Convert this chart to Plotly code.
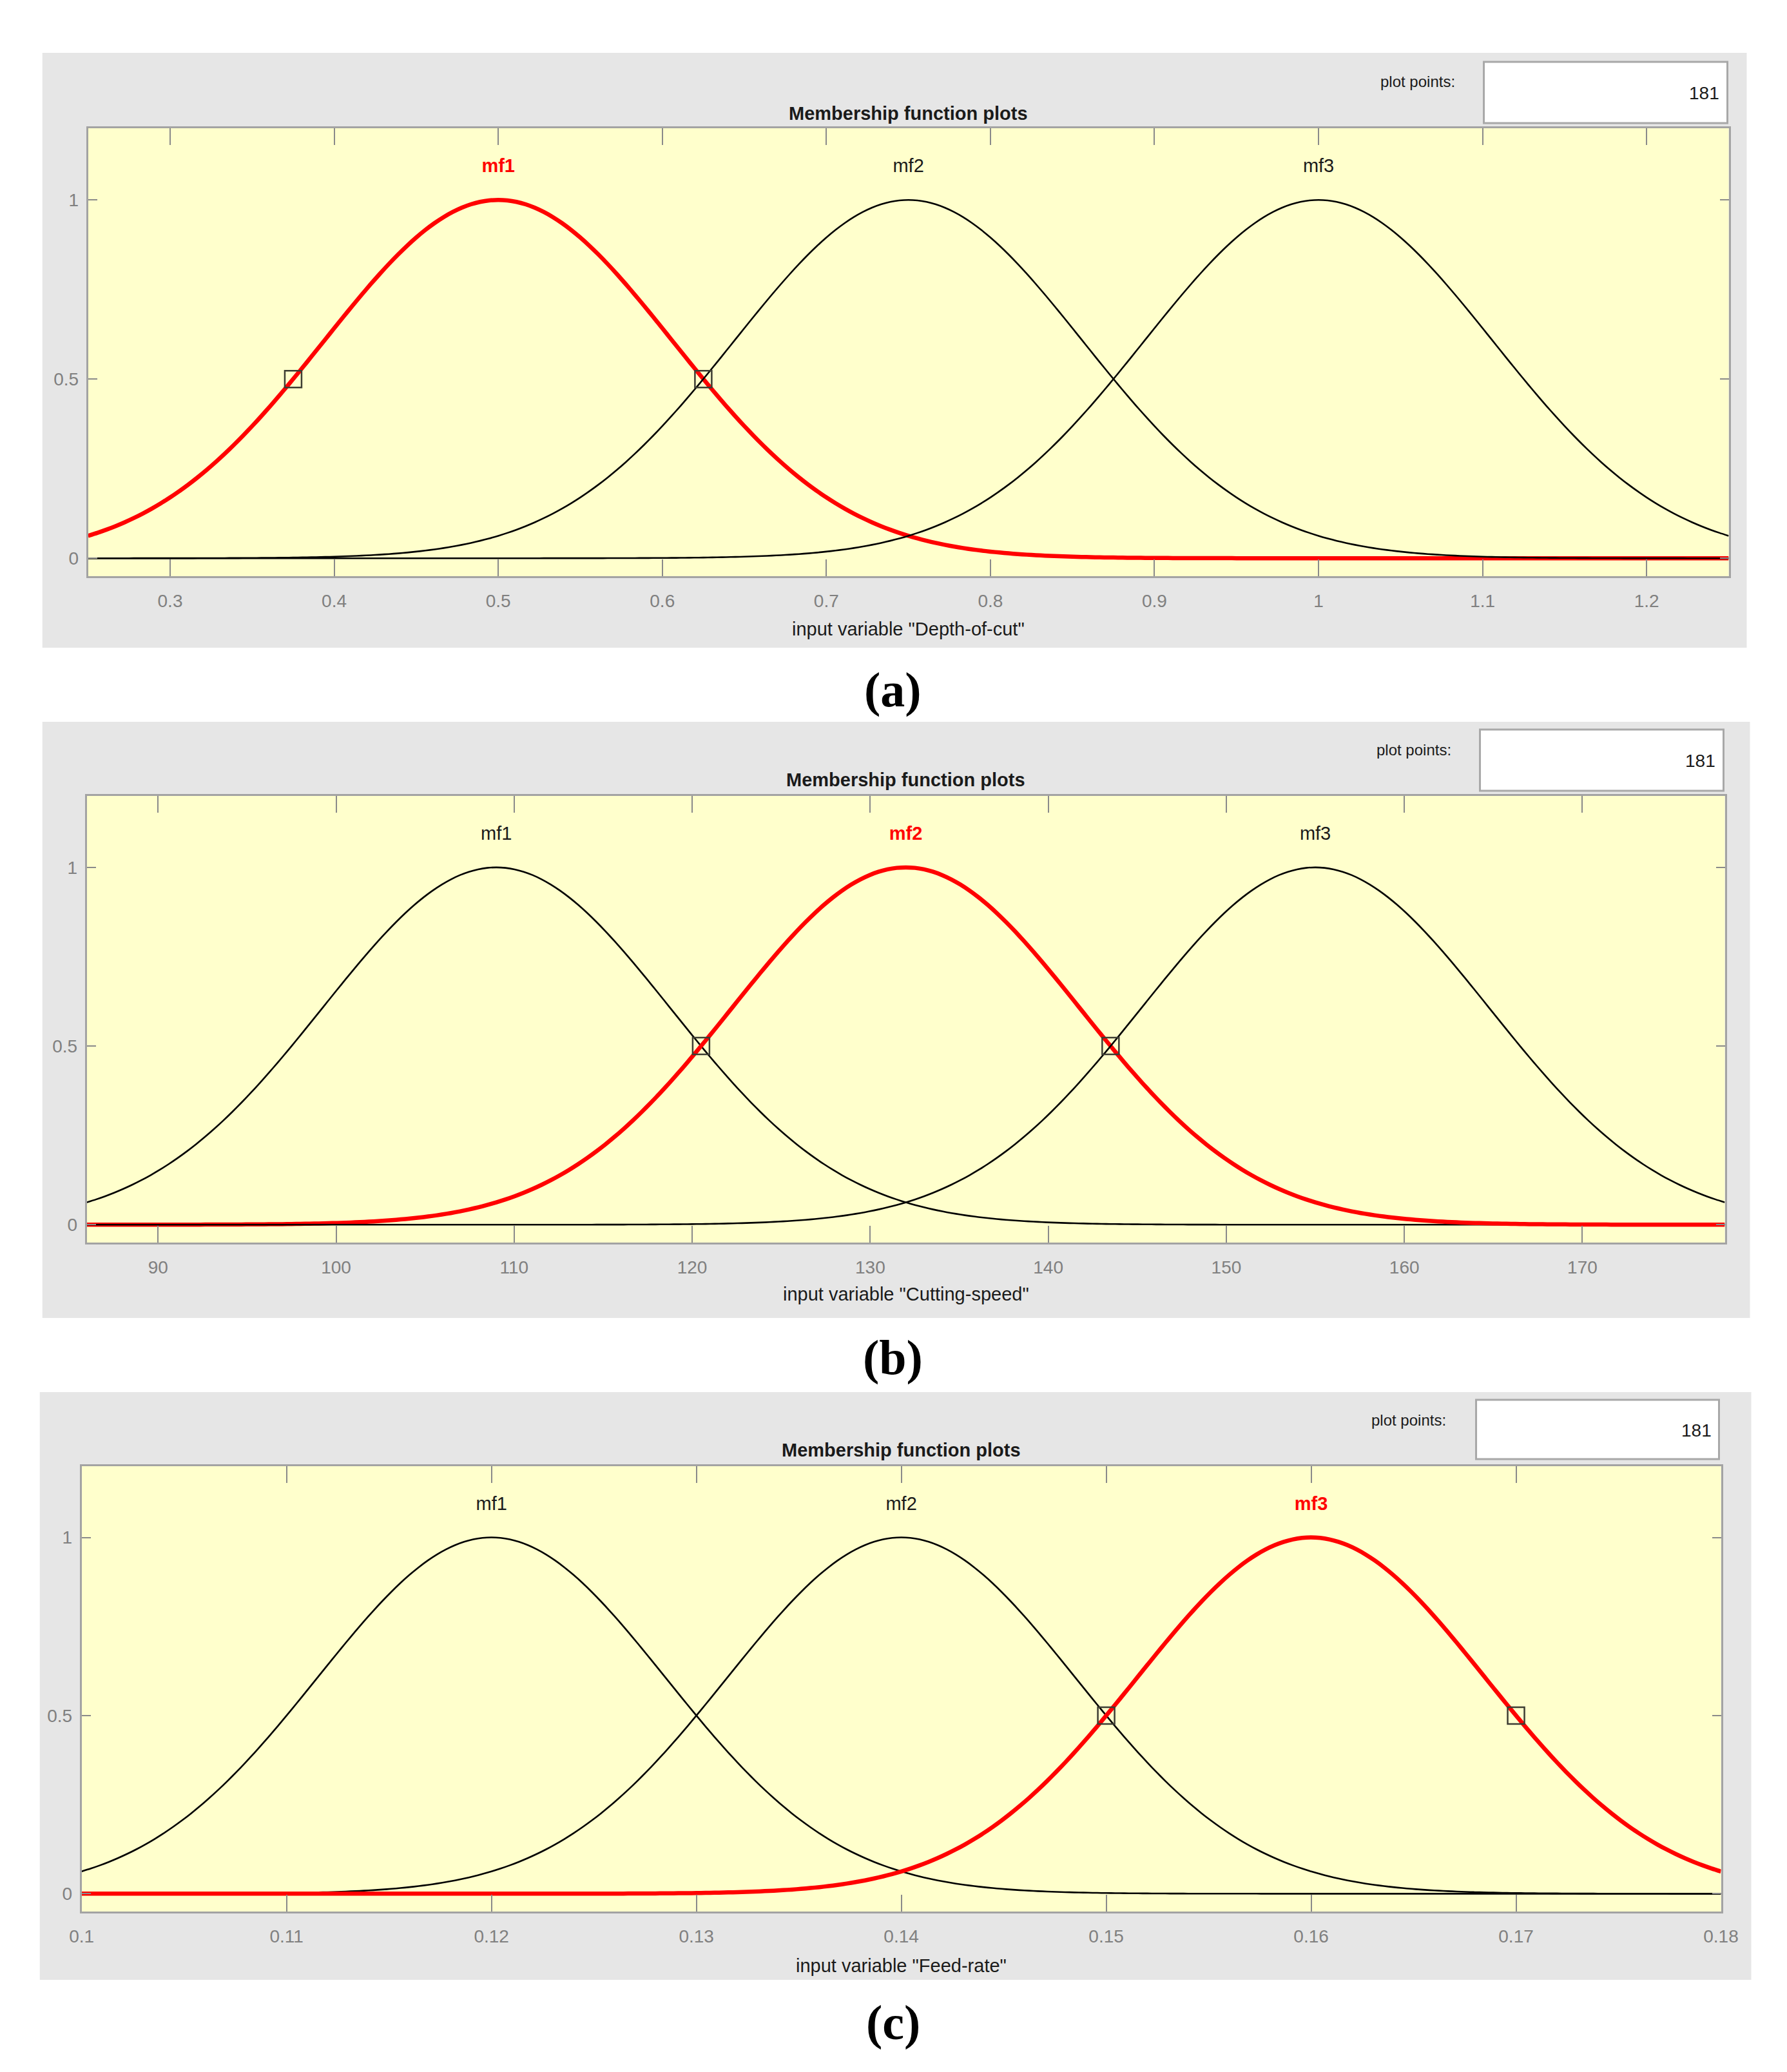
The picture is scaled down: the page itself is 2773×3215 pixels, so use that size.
import numpy as np
import plotly.graph_objects as go

# window is 2773x3215; body has an 8px margin, so the figure is sized to fit without scrollbars
OFF = 8
W, H = 2773 - 2 * OFF, 3215 - 2 * OFF
# horizontal calibration of the captured picture (measured from previous renders)
HX_SCALE, HX_SHIFT = 0.9834, 19.4

# ---------------- data ----------------
mf_names = ["mf1", "mf2", "mf3"]
plot_points = 181

depth_range = [0.25, 1.25]
depth_centers = [0.5, 0.75, 1.0]
depth_sigma = 0.1062
depth_selected = 0
depth_marker_x = [0.375, 0.625]
depth_ticks = [0.3, 0.4, 0.5, 0.6, 0.7, 0.8, 0.9, 1.0, 1.1, 1.2]
depth_ticktext = ["0.3", "0.4", "0.5", "0.6", "0.7", "0.8", "0.9", "1", "1.1", "1.2"]

speed_range = [86, 178]
speed_centers = [109, 132, 155]
speed_sigma = 9.767
speed_selected = 1
speed_marker_x = [120.5, 143.5]
speed_ticks = [90, 100, 110, 120, 130, 140, 150, 160, 170]
speed_ticktext = ["90", "100", "110", "120", "130", "140", "150", "160", "170"]

feed_range = [0.1, 0.18]
feed_centers = [0.12, 0.14, 0.16]
feed_sigma = 0.008493
feed_selected = 2
feed_marker_x = [0.15, 0.17]
feed_ticks = [0.1, 0.11, 0.12, 0.13, 0.14, 0.15, 0.16, 0.17, 0.18]
feed_ticktext = ["0.1", "0.11", "0.12", "0.13", "0.14", "0.15", "0.16", "0.17", "0.18"]

marker_y = [0.5, 0.5]
label_y = [1.09, 1.09, 1.09]
y_ticks = [0, 0.5, 1]
y_ticktext = ["0", "0.5", "1"]
y_range = [-0.05, 1.2]

x_titles = ['input variable "Depth-of-cut"',
            'input variable "Cutting-speed"',
            'input variable "Feed-rate"']
captions = ["(a)", "(b)", "(c)"]
panel_title = "Membership function plots"
pp_label = "plot points:"

# ---------------- geometry (target pixels) ----------------
geom = [
    dict(grey=(66, 82, 2711, 1005), plot=(137, 199, 2683, 894), title_y=176,
         box=(2303, 96, 2681, 191), pp_right=2260, pp_y=127, num_right=2670, num_y=144,
         xlabel_y=976, caption_y=1071),
    dict(grey=(66, 1120, 2716, 2045), plot=(135, 1235, 2677, 1928), title_y=1210,
         box=(2297, 1132, 2675, 1227), pp_right=2254, pp_y=1163, num_right=2664, num_y=1180,
         xlabel_y=2008, caption_y=2106),
    dict(grey=(62, 2160, 2718, 3072), plot=(127, 2275, 2671, 2966), title_y=2250,
         box=(2291, 2172, 2668, 2264), pp_right=2246, pp_y=2203, num_right=2658, num_y=2219,
         xlabel_y=3050, caption_y=3138),
]

panels = [
    (depth_range, depth_centers, depth_sigma, depth_selected, depth_marker_x, depth_ticks, depth_ticktext),
    (speed_range, speed_centers, speed_sigma, speed_selected, speed_marker_x, speed_ticks, speed_ticktext),
    (feed_range, feed_centers, feed_sigma, feed_selected, feed_marker_x, feed_ticks, feed_ticktext),
]

def px(x):
    page_x = (x - HX_SHIFT) / HX_SCALE
    return (page_x - OFF) / W

def py(y):
    return 1 - (y - OFF) / H

FONT = "Liberation Sans Narrow, Arial Narrow, Liberation Sans, Arial, sans-serif"

fig = go.Figure()
shapes = []
annotations = []
layout_axes = {}

for i, (rng, centers, sigma, sel, mx, ticks, ticktext) in enumerate(panels):
    g = geom[i]
    xa = "x" if i == 0 else f"x{i+1}"
    ya = "y" if i == 0 else f"y{i+1}"
    xs = np.linspace(rng[0], rng[1], plot_points)
    # Gaussian membership functions (gaussmf) evaluated at the plot points
    for k, c in enumerate(centers):
        mu = np.exp(-((xs - c) ** 2) / (2 * sigma ** 2))
        is_sel = (k == sel)
        fig.add_trace(go.Scatter(
            x=xs, y=mu, mode="lines", xaxis=xa, yaxis=ya, showlegend=False,
            line=dict(color="#ff0000" if is_sel else "#000000",
                      width=6.5 if is_sel else 2.6, shape="spline", smoothing=0.6),
            hoverinfo="skip"))
    # mf labels
    for k, c in enumerate(centers):
        is_sel = (k == sel)
        fig.add_trace(go.Scatter(
            x=[c], y=[label_y[k]], mode="text", xaxis=xa, yaxis=ya, showlegend=False,
            text=[f"<b>{mf_names[k]}</b>" if is_sel else mf_names[k]],
            textfont=dict(family=FONT, size=29, color="#ff0000" if is_sel else "#1a1a1a"),
            hoverinfo="skip"))
    # selected-mf marker squares
    fig.add_trace(go.Scatter(
        x=mx, y=marker_y, mode="markers", xaxis=xa, yaxis=ya, showlegend=False,
        marker=dict(symbol="square-open", size=26, color="#3d3d33",
                    line=dict(width=2.5, color="#3d3d33")),
        hoverinfo="skip"))

    x0, y0, x1, y1 = g["plot"]
    axis_common = dict(showgrid=False, zeroline=False, ticks="inside", mirror="ticks",
                       showline=True, linecolor="#a3a3a3", linewidth=3,
                       tickcolor="#8a8a8a", tickwidth=2,
                       tickfont=dict(family=FONT, size=28, color="#808080"))
    layout_axes["xaxis" if i == 0 else f"xaxis{i+1}"] = dict(
        axis_common, domain=[px(x0), px(x1)], range=rng, anchor=ya,
        tickvals=ticks, ticktext=ticktext, ticklen=26, ticklabelstandoff=11)
    layout_axes["yaxis" if i == 0 else f"yaxis{i+1}"] = dict(
        axis_common, domain=[py(y1), py(y0)], range=y_range, anchor=xa,
        tickvals=y_ticks, ticktext=y_ticktext, ticklen=14, ticklabelstandoff=6)

    gx0, gy0, gx1, gy1 = g["grey"]
    shapes.append(dict(type="rect", xref="paper", yref="paper", layer="below",
                       x0=px(gx0), x1=px(gx1), y0=py(gy1), y1=py(gy0),
                       fillcolor="#e6e6e6", line=dict(width=0)))
    shapes.append(dict(type="rect", xref="paper", yref="paper", layer="below",
                       x0=px(x0), x1=px(x1), y0=py(y1), y1=py(y0),
                       fillcolor="#ffffcc", line=dict(width=0)))
    bx0, by0, bx1, by1 = g["box"]
    shapes.append(dict(type="rect", xref="paper", yref="paper", layer="below",
                       x0=px(bx0), x1=px(bx1), y0=py(by1), y1=py(by0),
                       fillcolor="#ffffff", line=dict(width=3, color="#a8a8a8")))

    xc = px((x0 + x1) / 2)
    annotations += [
        dict(text=f"<b>{panel_title}</b>", x=xc, y=py(g["title_y"]), xref="paper", yref="paper",
             showarrow=False, xanchor="center", yanchor="middle",
             font=dict(family=FONT, size=29, color="#1a1a1a")),
        dict(text=pp_label, x=px(g["pp_right"]), y=py(g["pp_y"]), xref="paper", yref="paper",
             showarrow=False, xanchor="right", yanchor="middle",
             font=dict(family=FONT, size=24, color="#1a1a1a")),
        dict(text=str(plot_points), x=px(g["num_right"]), y=py(g["num_y"]), xref="paper", yref="paper",
             showarrow=False, xanchor="right", yanchor="middle",
             font=dict(family=FONT, size=28, color="#1a1a1a")),
        dict(text=x_titles[i], x=xc, y=py(g["xlabel_y"]), xref="paper", yref="paper",
             showarrow=False, xanchor="center", yanchor="middle",
             font=dict(family=FONT, size=29, color="#1a1a1a")),
        dict(text=f"<b>{captions[i]}</b>", x=px(1386), y=py(g["caption_y"]), xref="paper", yref="paper",
             showarrow=False, xanchor="center", yanchor="middle",
             font=dict(family="Liberation Serif, DejaVu Serif, serif", size=76, color="#000000")),
    ]

fig.update_layout(
    width=W, height=H, margin=dict(l=0, r=0, t=0, b=0),
    paper_bgcolor="#ffffff", plot_bgcolor="rgba(0,0,0,0)",
    shapes=shapes, annotations=annotations, showlegend=False,
    **layout_axes)

fig.write_html("out.html")
